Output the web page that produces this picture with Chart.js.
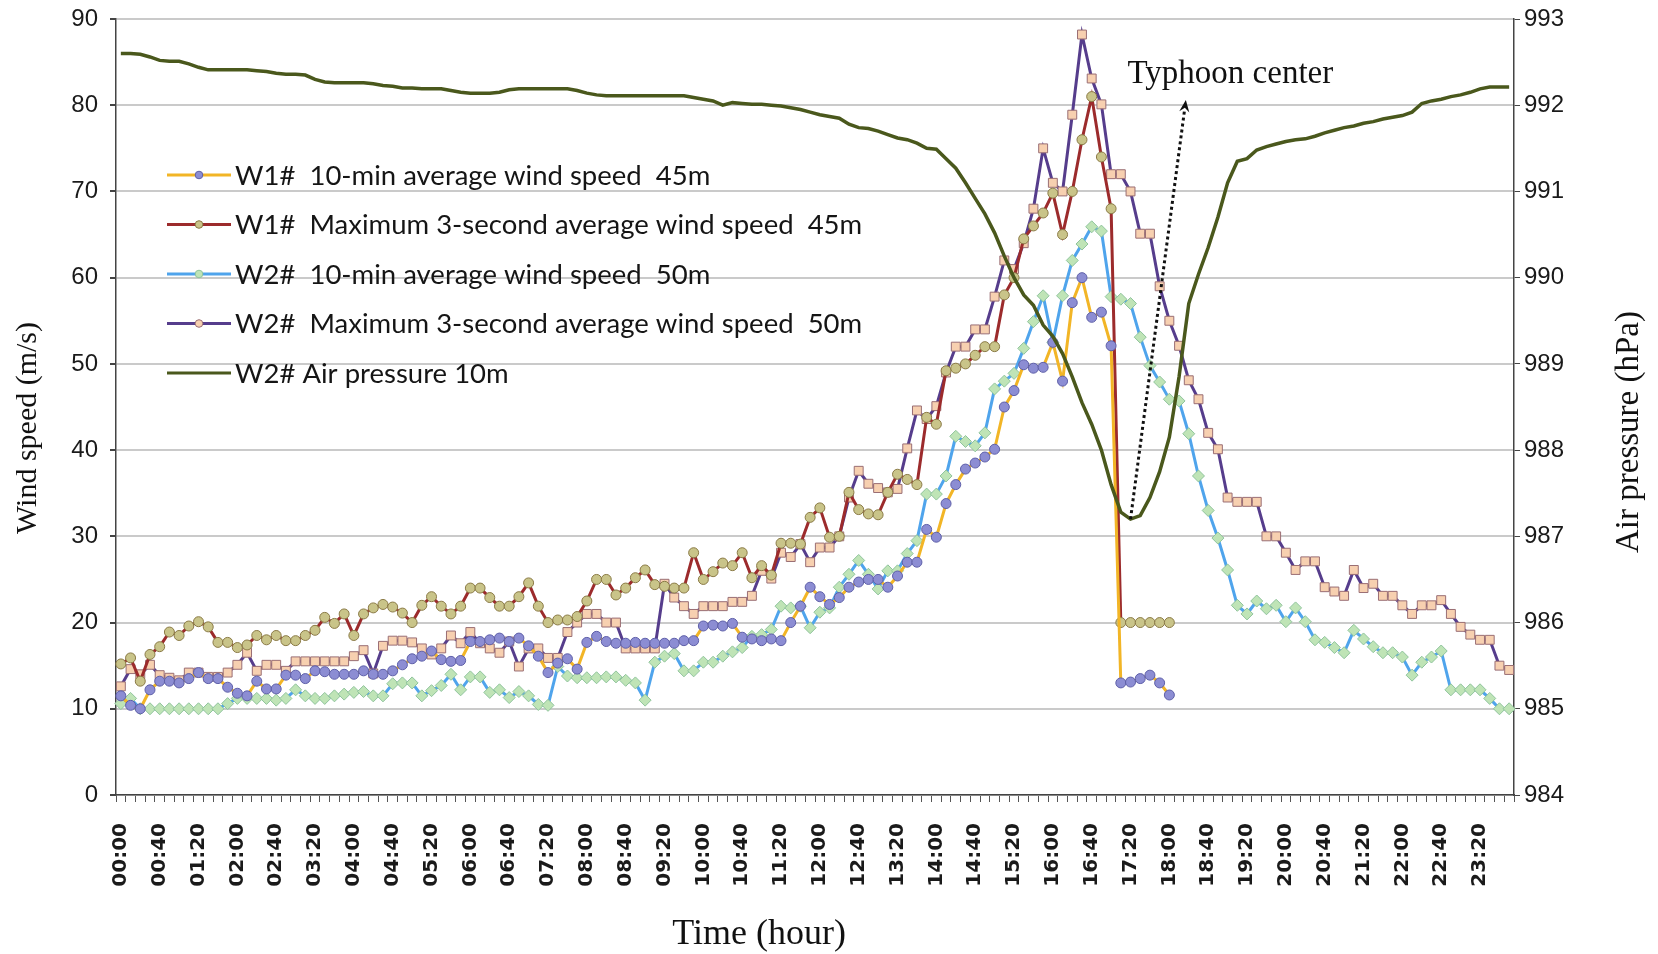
<!DOCTYPE html>
<html>
<head>
<meta charset="utf-8">
<title>Typhoon wind speed and air pressure</title>
<script src="https://cdn.jsdelivr.net/npm/chart.js@4/dist/chart.umd.min.js"></script>
<style>
  html, body { margin: 0; padding: 0; background: #fff; }
  #chart { display: block; }
</style>
</head>
<body>
<canvas id="chart" width="1658" height="954"></canvas>
<script>
// ==========================
// Data (10-minute records, 00:00 - 23:50)
// ==========================
const timeLabels = [];
for (let h = 0; h < 24; h++) {
    for (let m = 0; m < 60; m += 10) {
        timeLabels.push(String(h).padStart(2, "0") + ":" + String(m).padStart(2, "0"));
    }
}

// W1# 10-min average wind speed 45m (station stops after 18:00)
const w1Avg = [
    11.5, 10.4, 10.0, 12.2, 13.2, 13.2, 13.0, 13.5, 14.2, 13.5, 13.5, 12.5,   // 00:00
    11.8, 11.5, 13.2, 12.3, 12.3, 13.9, 13.9, 13.5, 14.4, 14.3, 14.0, 14.0,   // 02:00
    14.0, 14.4, 14.0, 14.0, 14.4, 15.1, 15.8, 16.1, 16.7, 15.7, 15.5, 15.6,   // 04:00
    17.8, 17.8, 18.0, 18.2, 17.8, 18.2, 17.3, 16.1, 14.2, 15.3, 15.8, 14.6,   // 06:00
    17.7, 18.4, 17.8, 17.6, 17.6, 17.7, 17.6, 17.6, 17.6, 17.6, 17.9, 17.9,   // 08:00
    19.6, 19.7, 19.6, 19.9, 18.3, 18.1, 17.9, 18.1, 17.9, 20.0, 21.9, 24.1,   // 10:00
    23.0, 22.1, 22.9, 24.1, 24.7, 25.0, 25.0, 24.1, 25.4, 27.0, 27.0, 30.8,   // 12:00
    29.9, 33.8, 36.0, 37.8, 38.5, 39.2, 40.1, 45.0, 46.9, 49.9, 49.5, 49.6,   // 14:00
    52.5, 48.0, 57.1, 60.0, 55.4, 56.0, 52.1, 13.0, 13.1, 13.5, 13.9, 13.0,   // 16:00
    11.6, null, null, null, null, null, null, null, null, null, null, null,   // 18:00
    null, null, null, null, null, null, null, null, null, null, null, null,   // 20:00
    null, null, null, null, null, null, null, null, null, null, null, null    // 22:00
];

// W1# Maximum 3-second average wind speed 45m
const w1Max = [
    15.2, 15.9, 13.2, 16.3, 17.2, 18.9, 18.5, 19.6, 20.1, 19.5, 17.7, 17.7,
    17.1, 17.4, 18.5, 18.0, 18.5, 17.9, 17.9, 18.5, 19.1, 20.6, 19.9, 21.0,
    18.5, 21.0, 21.7, 22.1, 21.8, 21.1, 20.0, 22.0, 23.0, 21.9, 21.0, 21.9,
    24.0, 24.0, 22.9, 21.9, 21.9, 23.0, 24.6, 21.9, 20.0, 20.3, 20.3, 20.7,
    22.5, 25.0, 25.0, 23.2, 24.0, 25.2, 26.1, 24.4, 24.2, 24.0, 24.0, 28.1,
    25.0, 25.9, 26.9, 26.6, 28.1, 25.2, 26.6, 25.5, 29.2, 29.2, 29.1, 32.2,
    33.3, 29.9, 30.0, 35.1, 33.1, 32.6, 32.5, 35.1, 37.2, 36.6, 36.0, 43.8,
    43.0, 49.2, 49.5, 50.0, 51.0, 52.0, 52.0, 58.0, 60.0, 64.5, 66.0, 67.5,
    69.8, 65.0, 70.0, 76.0, 81.0, 74.0, 68.0, 20.0, 20.0, 20.0, 20.0, 20.0,
    20.0, null, null, null, null, null, null, null, null, null, null, null,
    null, null, null, null, null, null, null, null, null, null, null, null,
    null, null, null, null, null, null, null, null, null, null, null, null
];

// W2# 10-min average wind speed 50m
const w2Avg = [
    10.6, 11.2, 10.0, 10.0, 10.0, 10.0, 10.0, 10.0, 10.0, 10.0, 10.0, 10.6,
    11.2, 11.2, 11.2, 11.2, 11.0, 11.2, 12.2, 11.5, 11.2, 11.2, 11.5, 11.7,
    11.9, 12.0, 11.5, 11.5, 12.9, 13.0, 13.0, 11.5, 12.1, 12.7, 14.0, 12.2,
    13.7, 13.7, 11.9, 12.2, 11.3, 12.0, 11.5, 10.5, 10.4, 14.9, 13.8, 13.6,
    13.6, 13.6, 13.7, 13.7, 13.3, 13.0, 11.0, 15.4, 16.1, 16.4, 14.4, 14.4,
    15.4, 15.4, 16.1, 16.6, 17.1, 18.4, 18.6, 19.2, 21.9, 21.7, 21.9, 19.4,
    21.2, 21.7, 24.1, 25.6, 27.2, 25.6, 23.9, 26.0, 26.0, 28.0, 29.5, 34.9,
    34.9, 37.0, 41.6, 41.0, 40.5, 42.0, 47.1, 48.0, 48.9, 51.8, 54.9, 57.9,
    52.5, 57.9, 62.0, 63.9, 65.9, 65.4, 57.8, 57.5, 57.0, 53.1, 49.8, 47.9,
    45.9, 45.7, 41.9, 37.0, 33.0, 29.8, 26.1, 22.0, 21.0, 22.5, 21.6, 22.0,
    20.1, 21.7, 20.1, 18.0, 17.7, 17.1, 16.5, 19.1, 18.1, 17.2, 16.5, 16.5,
    16.0, 13.9, 15.4, 16.0, 16.7, 12.2, 12.2, 12.2, 12.2, 11.2, 10.0, 10.0
];

// W2# Maximum 3-second average wind speed 50m
const w2Max = [
    12.6, 14.6, 14.0, 15.1, 13.9, 13.6, 13.3, 14.2, 14.2, 13.7, 13.7, 14.2,
    15.1, 16.5, 14.4, 15.1, 15.1, 14.4, 15.5, 15.5, 15.5, 15.5, 15.5, 15.5,
    16.1, 16.8, 14.1, 17.3, 17.9, 17.9, 17.7, 17.0, 16.3, 17.0, 18.5, 17.6,
    18.9, 17.6, 17.0, 16.5, 17.8, 14.9, 17.0, 17.0, 15.9, 15.9, 18.9, 20.0,
    21.0, 21.0, 20.0, 20.0, 17.0, 17.0, 17.0, 17.0, 24.5, 22.9, 21.9, 21.0,
    21.9, 21.9, 21.9, 22.4, 22.4, 23.1, 26.0, 25.1, 28.1, 27.6, 29.1, 27.0,
    28.7, 28.7, 30.0, 34.5, 37.6, 36.1, 35.6, 35.1, 35.5, 40.2, 44.6, 43.6,
    45.1, 49.0, 52.0, 52.0, 54.0, 54.0, 57.8, 62.0, 61.0, 64.0, 68.0, 75.0,
    71.0, 70.0, 78.9, 88.2, 83.1, 80.1, 72.0, 72.0, 70.0, 65.1, 65.1, 59.0,
    55.0, 52.1, 48.1, 45.9, 42.0, 40.1, 34.5, 34.0, 34.0, 34.0, 30.0, 30.0,
    28.1, 26.1, 27.1, 27.1, 24.1, 23.6, 23.1, 26.1, 24.0, 24.5, 23.1, 23.1,
    22.0, 21.0, 22.0, 22.0, 22.6, 21.0, 19.5, 18.6, 18.0, 18.0, 15.0, 14.5
];

// W2# Air pressure 10m (hPa)
const pressure = [
    992.60, 992.60, 992.59, 992.56, 992.52, 992.51, 992.51, 992.48, 992.44, 992.41, 992.41, 992.41,
    992.41, 992.41, 992.40, 992.39, 992.37, 992.36, 992.36, 992.35, 992.30, 992.27, 992.26, 992.26,
    992.26, 992.26, 992.25, 992.23, 992.22, 992.20, 992.20, 992.19, 992.19, 992.19, 992.17, 992.15,
    992.14, 992.14, 992.14, 992.15, 992.18, 992.19, 992.19, 992.19, 992.19, 992.19, 992.19, 992.17,
    992.14, 992.12, 992.11, 992.11, 992.11, 992.11, 992.11, 992.11, 992.11, 992.11, 992.11, 992.09,
    992.07, 992.05, 992.00, 992.03, 992.02, 992.01, 992.01, 992.00, 991.99, 991.97, 991.95, 991.92,
    991.89, 991.87, 991.85, 991.78, 991.74, 991.73, 991.70, 991.66, 991.62, 991.60, 991.56, 991.50,
    991.49, 991.38, 991.27, 991.10, 990.92, 990.74, 990.52, 990.25, 990.00, 989.80, 989.68, 989.45,
    989.32, 989.12, 988.85, 988.55, 988.30, 988.00, 987.60, 987.28, 987.20, 987.24, 987.45, 987.75,
    988.15, 988.85, 989.70, 990.04, 990.35, 990.70, 991.10, 991.35, 991.38, 991.48, 991.52, 991.55,
    991.58, 991.60, 991.61, 991.64, 991.68, 991.71, 991.74, 991.76, 991.79, 991.81, 991.84, 991.86,
    991.88, 991.92, 992.02, 992.05, 992.07, 992.10, 992.12, 992.15, 992.19, 992.21, 992.21, 992.21
];

const seriesNames = [
    "W1#  10-min average wind speed  45m",
    "W1#  Maximum 3-second average wind speed  45m",
    "W2#  10-min average wind speed  50m",
    "W2#  Maximum 3-second average wind speed  50m",
    "W2# Air pressure 10m"
];

// Typhoon center annotation: from the pressure minimum up towards the label
const typhoonText = "Typhoon center";
const arrowFrom = { index: 104, pressure: 987.2 };
const arrowTo = { index: 109.7, speed: 80.6 };

// ==========================
// Helpers
// ==========================
function xPixel(scale, idx) {
    const a = Math.floor(idx);
    const p0 = scale.getPixelForValue(a);
    const p1 = scale.getPixelForValue(a + 1);
    return p0 + (p1 - p0) * (idx - a);
}

// ==========================
// Plugins
// ==========================
const insideLegend = {
    id: "insideLegend",
    afterDraw(chart) {
        const c = chart.ctx;
        const top = 175, gap = 49.5;
        chart.data.datasets.forEach((ds, k) => {
            const y = top + k * gap;
            c.save();
            c.strokeStyle = ds.borderColor;
            c.lineWidth = 3;
            c.beginPath();
            c.moveTo(167, y);
            c.lineTo(231, y);
            c.stroke();
            if (ds.pointRadius > 0) {
                c.beginPath();
                c.arc(199, y, 3.8, 0, Math.PI * 2);
                c.fillStyle = ds.pointBackgroundColor;
                c.fill();
                c.lineWidth = 1;
                c.strokeStyle = ds.pointBorderColor;
                c.stroke();
            }
            c.fillStyle = "#151515";
            c.font = "27.5px Lato";
            c.textBaseline = "middle";
            c.textAlign = "left";
            c.fillText(ds.label, 235, y + 1);
            c.restore();
        });
    }
};

const typhoonArrow = {
    id: "typhoonArrow",
    afterDatasetsDraw(chart) {
        const c = chart.ctx;
        const sx = chart.scales.x, sy = chart.scales.y, sp = chart.scales.y2;
        const x0 = xPixel(sx, arrowFrom.index), y0 = sp.getPixelForValue(arrowFrom.pressure);
        const x1 = xPixel(sx, arrowTo.index), y1 = sy.getPixelForValue(arrowTo.speed);
        const ang = Math.atan2(y1 - y0, x1 - x0);
        const head = 13;
        c.save();
        c.strokeStyle = "#111";
        c.lineWidth = 3;
        c.setLineDash([3, 3]);
        c.beginPath();
        c.moveTo(x0, y0);
        c.lineTo(x1 - Math.cos(ang) * head * 0.8, y1 - Math.sin(ang) * head * 0.8);
        c.stroke();
        c.setLineDash([]);
        c.fillStyle = "#111";
        c.beginPath();
        c.moveTo(x1, y1);
        c.lineTo(x1 - head * Math.cos(ang - 0.4), y1 - head * Math.sin(ang - 0.4));
        c.lineTo(x1 - head * 0.6 * Math.cos(ang), y1 - head * 0.6 * Math.sin(ang));
        c.lineTo(x1 - head * Math.cos(ang + 0.4), y1 - head * Math.sin(ang + 0.4));
        c.closePath();
        c.fill();
        c.font = "33px 'Liberation Serif'";
        c.textBaseline = "alphabetic";
        c.textAlign = "left";
        c.fillText(typhoonText, x0 - 3, 83);
        c.restore();
    }
};

const axisTitles = {
    id: "axisTitles",
    afterDraw(chart) {
        const c = chart.ctx;
        const area = chart.chartArea;
        c.save();
        c.fillStyle = "#111";
        c.textAlign = "center";
        c.textBaseline = "middle";
        c.font = "30px 'Liberation Serif'";
        // left title
        c.save();
        c.translate(28, 428);
        c.rotate(-Math.PI / 2);
        c.fillText("Wind speed (m/s)", 0, 0);
        c.restore();
        // right title
        c.font = "33px 'Liberation Serif'";
        c.save();
        c.translate(1629, 432);
        c.rotate(-Math.PI / 2);
        c.fillText("Air pressure (hPa)", 0, 0);
        c.restore();
        // bottom title
        c.font = "36px 'Liberation Serif'";
        c.fillText("Time (hour)", area.left + (area.right - area.left) * 0.46, 935);
        c.restore();
    }
};

// ==========================
// Chart
// ==========================
Chart.defaults.font.family = "'Liberation Sans', Arial, sans-serif";
Chart.defaults.color = "#1a1a1a";

const ctx = document.getElementById("chart").getContext("2d");

new Chart(ctx, {
    type: "line",
    data: {
        labels: timeLabels,
        datasets: [
            {
                label: seriesNames[0],
                data: w1Avg,
                yAxisID: "y",
                borderColor: "#F2B526",
                borderWidth: 3,
                pointStyle: "circle",
                pointRadius: 5,
                pointBackgroundColor: "#8C8DD3",
                pointBorderColor: "#5E5FA8",
                pointBorderWidth: 1,
                spanGaps: false,
                order: 1
            },
            {
                label: seriesNames[1],
                data: w1Max,
                yAxisID: "y",
                borderColor: "#9C2B2C",
                borderWidth: 3,
                pointStyle: "circle",
                pointRadius: 5,
                pointBackgroundColor: "#C9C489",
                pointBorderColor: "#8A7A46",
                pointBorderWidth: 1,
                spanGaps: false,
                order: 2
            },
            {
                label: seriesNames[2],
                data: w2Avg,
                yAxisID: "y",
                borderColor: "#4FA4EC",
                borderWidth: 3,
                pointStyle: "rectRot",
                pointRadius: 6,
                pointBackgroundColor: "#BFE4B6",
                pointBorderColor: "#8FC39C",
                pointBorderWidth: 1,
                order: 3
            },
            {
                label: seriesNames[3],
                data: w2Max,
                yAxisID: "y",
                borderColor: "#563D8C",
                borderWidth: 3,
                pointStyle: "rect",
                pointRadius: 6.3,
                pointBackgroundColor: "#F7D0B0",
                pointBorderColor: "#9A6E74",
                pointBorderWidth: 1,
                order: 4
            },
            {
                label: seriesNames[4],
                data: pressure,
                yAxisID: "y2",
                borderColor: "#4A581C",
                borderWidth: 3.5,
                pointRadius: 0,
                pointBackgroundColor: "#4A581C",
                pointBorderColor: "#4A581C",
                order: 0
            }
        ]
    },
    options: {
        responsive: false,
        animation: false,
        events: [],
        layout: { autoPadding: false, padding: { top: 19, left: 0, right: 0, bottom: 0 } },
        plugins: {
            legend: { display: false },
            tooltip: { enabled: false }
        },
        elements: { line: { tension: 0 } },
        scales: {
            x: {
                type: "category",
                offset: true,
                grid: {
                    offset: true,
                    drawOnChartArea: false,
                    tickLength: 7,
                    color: "#555",
                    lineWidth: 1
                },
                border: { color: "#444", width: 1.5 },
                ticks: {
                    autoSkip: false,
                    minRotation: 90,
                    maxRotation: 90,
                    padding: 21,
                    color: "#1a1a1a",
                    font: { family: "'DejaVu Sans'", size: 20, weight: "bold" },
                    callback: (value, index) => index % 4 === 0 ? timeLabels[index] : ""
                },
                afterFit: s => { s.height = 159; }
            },
            y: {
                position: "left",
                min: 0,
                max: 90,
                grid: {
                    color: "#CACACA",
                    lineWidth: 2,
                    tickLength: 6,
                    tickColor: "#444"
                },
                border: { color: "#444", width: 1.5 },
                ticks: {
                    stepSize: 10,
                    padding: 12,
                    color: "#1a1a1a",
                    font: { size: 24 }
                },
                afterFit: s => { s.width = 116; s.paddingTop = 0; s.paddingBottom = 0; }
            },
            y2: {
                position: "right",
                min: 984,
                max: 993,
                grid: {
                    drawOnChartArea: false,
                    tickLength: 6,
                    color: "#444"
                },
                border: { color: "#444", width: 1.5 },
                ticks: {
                    stepSize: 1,
                    padding: 4,
                    color: "#1a1a1a",
                    font: { size: 24 }
                },
                afterFit: s => { s.width = 144; s.paddingTop = 0; s.paddingBottom = 0; }
            }
        }
    },
    plugins: [insideLegend, typhoonArrow, axisTitles]
});
</script>
</body>
</html>
